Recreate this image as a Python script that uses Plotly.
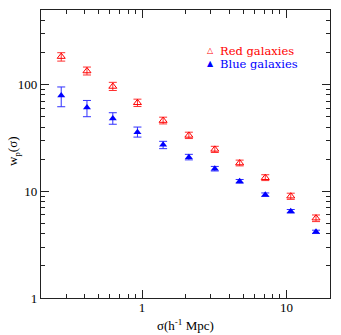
import plotly.graph_objects as go

# projected separation (h^-1 Mpc)
sigma = [0.276, 0.416, 0.628, 0.93, 1.40, 2.11, 3.19, 4.74, 7.13, 10.7, 16.0]

# red galaxies
wp_red = [183, 134, 96, 67.5, 46, 33.4, 24.7, 18.4, 13.4, 9.0, 5.6]
err_red_hi = [16, 12, 9, 5.5, 3.5, 2.4, 1.7, 1.2, 0.9, 0.6, 0.4]
err_red_lo = [17, 11, 8, 5.2, 3.2, 2.2, 1.6, 1.1, 0.8, 0.6, 0.4]

# blue galaxies
wp_blue = [79, 61, 48, 35.8, 27.3, 20.9, 16.3, 12.4, 9.3, 6.5, 4.17]
err_blue_hi = [16, 10, 6.5, 4.2, 2.1, 1.3, 0.8, 0.5, 0.35, 0.25, 0.15]
err_blue_lo = [17, 11, 5.5, 3.6, 2.2, 1.2, 0.8, 0.5, 0.35, 0.25, 0.15]

FONT = "Liberation Serif"
LFONT = "DejaVu Serif"

fig = go.Figure()
fig.add_trace(go.Scatter(
    x=sigma, y=wp_red, mode="markers", name="Red galaxies",
    marker=dict(symbol="triangle-up-open", size=7, color="#ff0000", line=dict(width=1)),
    error_y=dict(type="data", array=err_red_hi, arrayminus=err_red_lo,
                 color="#ff3030", thickness=1, width=4),
))
fig.add_trace(go.Scatter(
    x=sigma, y=wp_blue, mode="markers", name="Blue galaxies",
    marker=dict(symbol="triangle-up", size=7, color="#0000ff"),
    error_y=dict(type="data", array=err_blue_hi, arrayminus=err_blue_lo,
                 color="#3030ff", thickness=1, width=4),
))

axis_common = dict(
    type="log", showgrid=False, zeroline=False, automargin=False,
    showline=True, linecolor="#222", linewidth=1.4, mirror="allticks",
    ticks="inside", ticklen=8, tickcolor="#222", tickwidth=1,
    dtick=1, tickfont=dict(family=FONT, size=13, color="black"),
    minor=dict(ticks="inside", ticklen=4, tickcolor="#222", dtick="D1", showgrid=False),
)

fig.update_xaxes(axis_common, range=[-0.699, 1.301], ticklabelstandoff=-3)
fig.update_yaxes(axis_common, range=[0, 2.699], ticklabelstandoff=0)

# axis titles
fig.add_annotation(x=0.5, y=-0.095, xref="paper", yref="paper", text="σ(h<sup>-1</sup> Mpc)",
                   showarrow=False, xanchor="center", yanchor="middle",
                   font=dict(family=FONT, size=13, color="black"))
fig.add_annotation(x=-0.097, y=0.51, xref="paper", yref="paper", text="w<sub>p</sub>(σ)",
                   showarrow=False, xanchor="center", yanchor="middle", textangle=-90,
                   font=dict(family=FONT, size=13, color="black"))

# legend drawn as text
legend_rows = [("△", "Red galaxies", "#ff0000", 0.859), ("▲", "Blue galaxies", "#0000ff", 0.814)]
for sym, label, col, yy in legend_rows:
    fig.add_annotation(x=0.588, y=yy, xref="paper", yref="paper", text=sym,
                       showarrow=False, xanchor="center", yanchor="middle", borderpad=0,
                       font=dict(family="DejaVu Sans", size=8, color=col))
    fig.add_annotation(x=0.617, y=yy, xref="paper", yref="paper", text=label,
                       showarrow=False, xanchor="left", yanchor="middle", borderpad=0,
                       font=dict(family=LFONT, size=11.5, color=col))

fig.update_layout(
    width=341, height=335,
    margin=dict(l=41, r=11, t=10, b=37),
    plot_bgcolor="white", paper_bgcolor="white",
    showlegend=False,
)

# drop the page's default body margin so the figure sits at the window corner
fig.write_html("out.html", config={"displayModeBar": False},
               post_script="document.body.style.margin='0';")
